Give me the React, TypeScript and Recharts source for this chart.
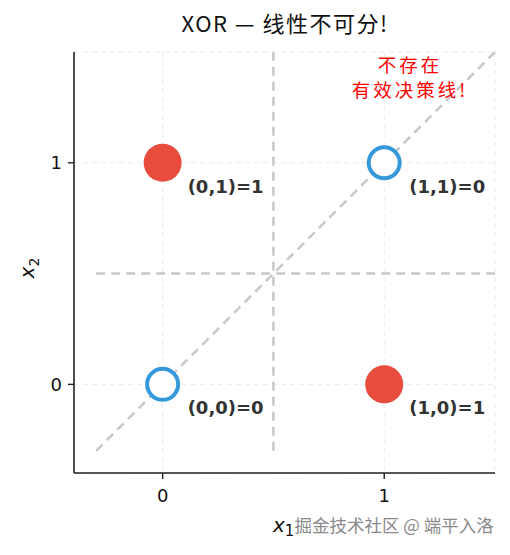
import {
  ScatterChart, Scatter, XAxis, YAxis, CartesianGrid, ReferenceLine, ReferenceDot,
} from 'recharts'

const inputX1 = [0, 0, 1, 1]
const inputX2 = [0, 1, 0, 1]
const xorOut = [0, 1, 1, 0]
const axisTicks = [0, 1]
const axisDomain = [-0.4, 1.5]

const points = inputX1.map((x, i) => ({
  x,
  y: inputX2[i],
  out: xorOut[i],
  label: `(${x},${inputX2[i]})=${xorOut[i]}`,
}))
const positive = points.filter((p) => p.out === 1)
const negative = points.filter((p) => p.out === 0)

const tickStyle = { fontSize: 18, fill: '#111', fontFamily: 'DejaVu Sans' }

function PointShape(props: any) {
  const { cx, cy, payload } = props
  const filled = payload.out === 1
  return (
    <g>
      {filled ? (
        <circle cx={cx} cy={cy} r={19} fill="#e74c3c" />
      ) : (
        <circle cx={cx} cy={cy} r={15.5} fill="#fff" stroke="#3498db" strokeWidth={4} />
      )}
      <text
        x={cx + 25}
        y={cy + 30}
        fontSize={18}
        fontWeight="bold"
        fill="#333"
        fontFamily="DejaVu Sans"
      >
        {payload.label}
      </text>
    </g>
  )
}

function NoteLabel(props: any) {
  const { viewBox } = props
  const cx = viewBox.x + viewBox.width / 2 + 1.5
  const cy = viewBox.y + viewBox.height / 2
  return (
    <text x={cx} textAnchor="middle" fill="#f00" fontSize={18.5} letterSpacing={3} fontFamily="Noto Sans CJK SC">
      <tspan x={cx} y={cy - 5}>不存在</tspan>
      <tspan x={cx} y={cy + 20}>有效决策线!</tspan>
    </text>
  )
}

export default function App() {
  return (
    <div style={{ position: 'absolute', left: 0, top: 0, width: 510, height: 555, background: '#fff' }}>
      <div
        style={{
          position: 'absolute', left: 0, width: 570, top: 6, textAlign: 'center',
          fontSize: 22, fontFamily: 'Noto Sans CJK SC', color: '#111', letterSpacing: 1.5,
        }}
      >
        XOR — 线性不可分!
      </div>
      <ScatterChart width={510} height={555} margin={{ top: 52, right: 15, bottom: 42, left: 30 }}>
        <CartesianGrid strokeDasharray="5 4" stroke="#ebebeb" />
        <XAxis
          type="number"
          dataKey="x"
          domain={axisDomain}
          ticks={axisTicks}
          allowDataOverflow
          height={40}
          tick={tickStyle}
          tickSize={6}
          tickMargin={10}
          axisLine={{ stroke: '#222', strokeWidth: 1.6 }}
          tickLine={{ stroke: '#222', strokeWidth: 1.4 }}
        />
        <YAxis
          type="number"
          dataKey="y"
          domain={axisDomain}
          ticks={axisTicks}
          allowDataOverflow
          width={44}
          tick={tickStyle}
          tickSize={6}
          tickMargin={6}
          axisLine={{ stroke: '#222', strokeWidth: 1.6 }}
          tickLine={{ stroke: '#222', strokeWidth: 1.4 }}
        />
        <ReferenceLine
          segment={[{ x: -0.3, y: -0.3 }, { x: 1.5, y: 1.5 }]}
          stroke="#c8c8c8"
          strokeWidth={2.5}
          strokeDasharray="9 6"
        />
        <ReferenceLine
          segment={[{ x: 0.5, y: -0.3 }, { x: 0.5, y: 1.5 }]}
          stroke="#c8c8c8"
          strokeWidth={2.5}
          strokeDasharray="9 6"
        />
        <ReferenceLine
          segment={[{ x: -0.3, y: 0.5 }, { x: 1.5, y: 0.5 }]}
          stroke="#c8c8c8"
          strokeWidth={2.5}
          strokeDasharray="9 6"
        />
        <Scatter data={positive} shape={PointShape} isAnimationActive={false} />
        <Scatter data={negative} shape={PointShape} isAnimationActive={false} />
        <ReferenceDot x={1.11} y={1.385} r={0} fill="none" stroke="none" label={<NoteLabel />} />
      </ScatterChart>
      <div
        style={{
          position: 'absolute', left: 10, top: 253, width: 34, height: 30,
          transform: 'rotate(-90deg)', fontSize: 20, fontFamily: 'DejaVu Sans', color: '#111',
          textAlign: 'center', lineHeight: '30px',
        }}
      >
        <i>x</i><sub style={{ fontSize: 14 }}>2</sub>
      </div>
      <div
        style={{
          position: 'absolute', left: 273, top: 512, whiteSpace: 'nowrap',
          fontFamily: 'DejaVu Sans', color: '#111',
        }}
      >
        <span style={{ fontSize: 20, fontStyle: 'italic' }}>x</span>
        <span style={{ fontSize: 15, position: 'relative', top: 4 }}>1</span>
        <span style={{ fontSize: 17.5, color: '#8a8a8a', fontFamily: 'Noto Sans CJK SC' }}>掘金技术社区 @ 端平入洛</span>
      </div>
    </div>
  )
}
